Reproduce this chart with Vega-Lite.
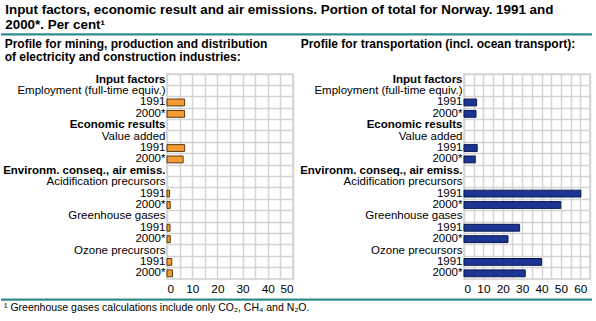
{
  "$schema": "https://vega.github.io/schema/vega-lite/v6.json",
  "padding": {"left": 0, "top": 3, "right": 0, "bottom": 0},
  "background": "white",
  "config": {
    "font": "Liberation Sans",
    "view": {"stroke": "#cfcfcf", "strokeWidth": 1.5},
    "axis": {"labelFont": "Liberation Sans", "labelColor": "#000", "gridColor": "#d4d4d4", "gridWidth": 1.5}
  },
  "title": {
    "text": ["Input factors, economic result and air emissions. Portion of total for Norway. 1991 and", "2000*. Per cent¹"],
    "anchor": "start", "fontSize": 13.4, "fontWeight": "bold", "lineHeight": 14.5, "offset": 2, "dx": 5, "color": "#000"
  },
  "datasets": {
    "divider": [{"x0": -1, "x1": 1, "y0": -1, "y1": 1}],
    "mining": [
      {"row": 2, "indicator": "Employment", "year": "1991", "value": 7.0},
      {"row": 3, "indicator": "Employment", "year": "2000*", "value": 7.0},
      {"row": 6, "indicator": "Value added", "year": "1991", "value": 7.0},
      {"row": 7, "indicator": "Value added", "year": "2000*", "value": 6.4},
      {"row": 10, "indicator": "Acidification precursors", "year": "1991", "value": 1.0},
      {"row": 11, "indicator": "Acidification precursors", "year": "2000*", "value": 1.3},
      {"row": 13, "indicator": "Greenhouse gases", "year": "1991", "value": 1.2},
      {"row": 14, "indicator": "Greenhouse gases", "year": "2000*", "value": 1.3},
      {"row": 16, "indicator": "Ozone precursors", "year": "1991", "value": 1.9},
      {"row": 17, "indicator": "Ozone precursors", "year": "2000*", "value": 2.2}
    ],
    "transport": [
      {"row": 2, "indicator": "Employment", "year": "1991", "value": 6.5},
      {"row": 3, "indicator": "Employment", "year": "2000*", "value": 6.2},
      {"row": 6, "indicator": "Value added", "year": "1991", "value": 6.8},
      {"row": 7, "indicator": "Value added", "year": "2000*", "value": 5.8},
      {"row": 10, "indicator": "Acidification precursors", "year": "1991", "value": 60.3},
      {"row": 11, "indicator": "Acidification precursors", "year": "2000*", "value": 49.9},
      {"row": 13, "indicator": "Greenhouse gases", "year": "1991", "value": 28.7},
      {"row": 14, "indicator": "Greenhouse gases", "year": "2000*", "value": 22.7},
      {"row": 16, "indicator": "Ozone precursors", "year": "1991", "value": 40.0},
      {"row": 17, "indicator": "Ozone precursors", "year": "2000*", "value": 31.6}
    ]
  },
  "columns": 2,
  "bounds": "flush",
  "spacing": {"row": 0, "column": 171},
  "concat": [
    {
      "width": 126, "height": 40,
      "view": {"stroke": null},
      "data": {"name": "divider"},
      "encoding": {
        "x": {"field": "x0", "type": "quantitative", "scale": {"domain": [0.1178, 0.9663], "nice": false, "zero": false}, "axis": null},
        "x2": {"field": "x1"}
      },
      "layer": [
        {"mark": {"type": "rect", "color": "#2f8c8a", "clip": false},
         "encoding": {"y": {"field": "y0", "type": "quantitative", "scale": {"domain": [-52.333, 1], "nice": false, "zero": false}, "axis": null}, "y2": {"field": "y1"}}},
        {"mark": {"type": "rule", "color": "#2f8c8a", "strokeWidth": 1.5, "clip": false},
         "encoding": {"y": {"field": "y1", "type": "quantitative", "axis": null}}}
      ]
    },
    {
      "width": 126, "height": 40,
      "view": {"stroke": null},
      "data": {"name": "divider"},
      "encoding": {
        "x": {"field": "x0", "type": "quantitative", "scale": {"domain": [0.12925, 0.98639], "nice": false, "zero": false}, "axis": null},
        "x2": {"field": "x1"}
      },
      "layer": [
        {"mark": {"type": "rect", "color": "#2f8c8a", "clip": false},
         "encoding": {"y": {"field": "y0", "type": "quantitative", "scale": {"domain": [-52.333, 1], "nice": false, "zero": false}, "axis": null}, "y2": {"field": "y1"}}},
        {"mark": {"type": "rule", "color": "#2f8c8a", "strokeWidth": 1.5, "clip": false},
         "encoding": {"y": {"field": "y1", "type": "quantitative", "axis": null}}}
      ]
    },
    {
      "title": {"text": ["Profile for mining, production and distribution", "of electricity and construction industries:"], "anchor": "start", "frame": "bounds", "fontSize": 12, "fontWeight": "bold", "lineHeight": 12.5, "offset": 9.5, "dx": 2, "color": "#000"},
      "width": 126, "height": 205,
      "data": {"name": "mining"},
      "mark": {"type": "bar", "color": "#F39C34", "stroke": "#5a3a10", "strokeWidth": 1, "height": {"band": 0.6}},
      "encoding": {
        "y": {"field": "row", "type": "ordinal",
          "scale": {"domain": [0,1,2,3,4,5,6,7,8,9,10,11,12,13,14,15,16,17], "paddingInner": 0, "paddingOuter": 0},
          "axis": {"title": null, "ticks": false, "domain": false, "labelPadding": 2, "labelFontSize": 11.5, "grid": true, "bandPosition": 0,
            "labelExpr": "['Input factors','Employment (full-time equiv.)','1991','2000*','Economic results','Value added','1991','2000*','Environm. conseq., air emiss.','Acidification precursors','1991','2000*','Greenhouse gases','1991','2000*','Ozone precursors','1991','2000*'][datum.value]",
            "labelFontWeight": {"condition": {"test": "datum.value == 0 || datum.value == 4 || datum.value == 8", "value": "bold"}, "value": "normal"}}},
        "x": {"field": "value", "type": "quantitative", "scale": {"domain": [0, 50], "nice": false},
          "axis": {"title": null, "ticks": false, "domain": false, "grid": true, "labelPadding": 4, "labelFontSize": 11.8, "values": [0,5,10,15,20,25,30,35,40,45,50],
            "labelExpr": "datum.value % 10 === 0 ? datum.label : ''"}}
      }
    },
    {
      "title": {"text": "Profile for transportation (incl. ocean transport):", "anchor": "start", "frame": "bounds", "fontSize": 12, "fontWeight": "bold", "lineHeight": 12.5, "offset": 22, "dx": 1, "color": "#000"},
      "width": 126, "height": 205,
      "data": {"name": "transport"},
      "mark": {"type": "bar", "color": "#1C3594", "stroke": "#0b1a4d", "strokeWidth": 1, "height": {"band": 0.6}},
      "encoding": {
        "y": {"field": "row", "type": "ordinal",
          "scale": {"domain": [0,1,2,3,4,5,6,7,8,9,10,11,12,13,14,15,16,17], "paddingInner": 0, "paddingOuter": 0},
          "axis": {"title": null, "ticks": false, "domain": false, "labelPadding": 2, "labelFontSize": 11.5, "grid": true, "bandPosition": 0,
            "labelExpr": "['Input factors','Employment (full-time equiv.)','1991','2000*','Economic results','Value added','1991','2000*','Environm. conseq., air emiss.','Acidification precursors','1991','2000*','Greenhouse gases','1991','2000*','Ozone precursors','1991','2000*'][datum.value]",
            "labelFontWeight": {"condition": {"test": "datum.value == 0 || datum.value == 4 || datum.value == 8", "value": "bold"}, "value": "normal"}}},
        "x": {"field": "value", "type": "quantitative", "scale": {"domain": [0, 65], "nice": false},
          "axis": {"title": null, "ticks": false, "domain": false, "grid": true, "labelPadding": 4, "labelFontSize": 11.8, "values": [0,5,10,15,20,25,30,35,40,45,50,55,60,65],
            "labelExpr": "datum.value % 10 === 0 ? datum.label : ''"}}
      }
    },
    {
      "width": 126, "height": 21,
      "view": {"stroke": null},
      "title": {"text": "¹ Greenhouse gases calculations include only CO₂, CH₄ and N₂O.", "orient": "bottom", "anchor": "start", "frame": "group", "fontSize": 10.5, "fontWeight": "normal", "offset": 2, "dx": -163, "color": "#000"},
      "data": {"name": "divider"},
      "encoding": {
        "x": {"field": "x0", "type": "quantitative", "scale": {"domain": [0.1178, 0.9663], "nice": false, "zero": false}, "axis": null},
        "x2": {"field": "x1"}
      },
      "layer": [
        {"mark": {"type": "rect", "color": "#2f8c8a", "clip": false},
         "encoding": {"y": {"field": "y0", "type": "quantitative", "scale": {"domain": [-1, 27], "nice": false, "zero": false}, "axis": null}, "y2": {"field": "y1"}}},
        {"mark": {"type": "rule", "color": "#2f8c8a", "strokeWidth": 1.5, "clip": false},
         "encoding": {"y": {"field": "y0", "type": "quantitative", "axis": null}}}
      ]
    },
    {
      "width": 126, "height": 21,
      "view": {"stroke": null},
      "data": {"name": "divider"},
      "encoding": {
        "x": {"field": "x0", "type": "quantitative", "scale": {"domain": [0.12925, 0.98639], "nice": false, "zero": false}, "axis": null},
        "x2": {"field": "x1"}
      },
      "layer": [
        {"mark": {"type": "rect", "color": "#2f8c8a", "clip": false},
         "encoding": {"y": {"field": "y0", "type": "quantitative", "scale": {"domain": [-1, 27], "nice": false, "zero": false}, "axis": null}, "y2": {"field": "y1"}}},
        {"mark": {"type": "rule", "color": "#2f8c8a", "strokeWidth": 1.5, "clip": false},
         "encoding": {"y": {"field": "y0", "type": "quantitative", "axis": null}}}
      ]
    }
  ]
}
